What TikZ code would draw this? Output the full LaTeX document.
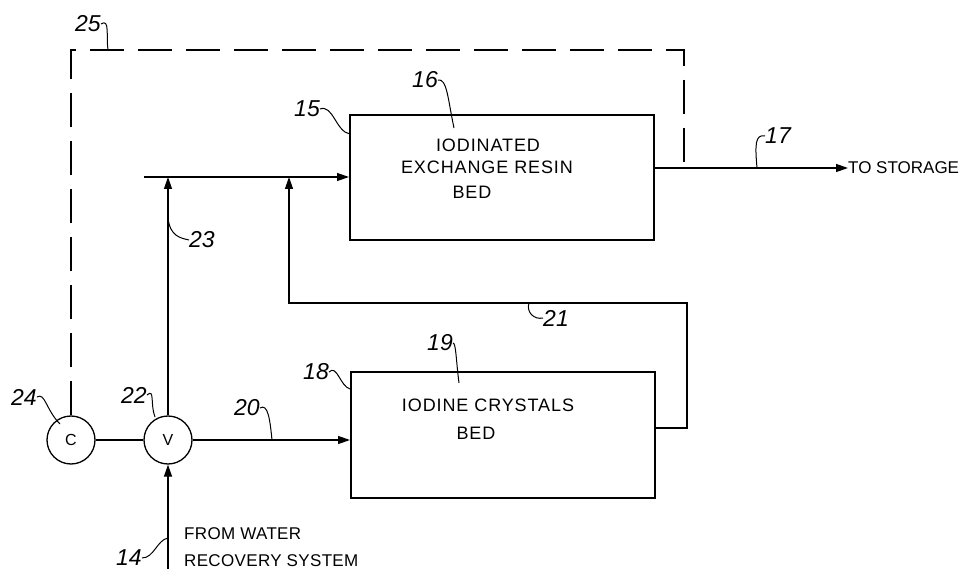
\documentclass[tikz,border=0pt]{standalone}
\usepackage{fontspec}
\setmainfont{Liberation Sans}
\usetikzlibrary{arrows.meta}
\begin{document}
\begin{tikzpicture}[x=1pt,y=-1pt,
  flow/.style={line width=1.3pt},
  arr/.style={flow,-{Triangle[length=12pt,width=8pt]}},
  bedbox/.style={draw,line width=2pt,minimum width=304pt,minimum height=125pt,inner sep=0},
  valve/.style={draw,circle,line width=1.3pt,minimum size=48pt,inner sep=0,font=\fontsize{16}{16}\selectfont},
  boxtext/.style={inner sep=0,font=\fontsize{18}{18}\selectfont\addfontfeature{LetterSpace=5}},
  plain/.style={inner sep=0,font=\fontsize{17}{17}\selectfont\addfontfeature{LetterSpace=2}},
  num/.style={inner sep=0,font=\fontsize{23}{23}\selectfont\itshape},
  leader/.style={line width=1pt},
  ctrl/.style={line width=1.3pt,dash pattern=on 34pt off 14pt}]
\useasboundingbox (0,0) rectangle (961,569);

% beds
\node[bedbox] (box1) at (502,177.5) {};
\node[bedbox,minimum height=126pt] (box2) at (503,435) {};
\node[boxtext] (t1a) at (488,145) {IODINATED};
\node[boxtext] (t1b) at (487,167) {EXCHANGE RESIN};
\node[boxtext] (t1c) at (472,192) {BED};
\node[boxtext] (t2a) at (488,405) {IODINE CRYSTALS};
\node[boxtext] (t2b) at (476,433) {BED};

% controller and valve
\node[valve] (C) at (71,440) {C};
\node[valve] (V) at (168,440) {V};

% coordinates
\coordinate (fs) at (144,177);
\coordinate (j17) at (684,168);
\coordinate (r21) at (687,428);
\coordinate (k21) at (289,303);
\coordinate (bot) at (168,569);
\coordinate (d1) at (73,50);

% text
\node[inner sep=0,font=\fontsize{17}{17}\selectfont,anchor=west] (storage) at (848,168) {TO STORAGE};
\node[plain,anchor=north west,align=left] (from) at (184,527)
  {FROM WATER\\[10pt]RECOVERY SYSTEM};

% flows
\draw[arr] (fs) -- (fs -| box1.west);
\draw[arr] (V.north) -- (V.north |- fs);
\draw[arr] (r21 -| box2.east) -- (r21) -- (r21 |- k21) -- (k21) -- (k21 |- fs);
\draw[arr] (box1.east |- j17) -- (storage.west);
\draw[arr] (V.east) -- (V.east -| box2.west);
\draw[flow] (C) -- (V);
\draw[arr] (bot) -- (V.south);

% control line
\draw[ctrl] (C.north) -- (C.north |- d1) -- (d1 -| j17) -- (j17);

% reference numerals
\node[num] (n25) at (88,24) {25};
\node[num] (n15) at (307,109) {15};
\node[num] (n16) at (425,80) {16};
\node[num] (n17) at (778,136) {17};
\node[num] (n23) at (202,240) {23};
\node[num] (n21) at (556,318) {21};
\node[num] (n19) at (440,343) {19};
\node[num] (n18) at (316,372) {18};
\node[num] (n20) at (247,408) {20};
\node[num] (n22) at (134,395) {22};
\node[num] (n24) at (24,397) {24};
\node[num] (n14) at (129,558) {14};

\coordinate (e25) at (108,50);
\coordinate (e15) at (350,134);
\coordinate (e16) at (454,128);
\coordinate (e17) at (757,168);
\coordinate (e23) at (168,218);
\coordinate (e21) at (529,303);
\coordinate (e19) at (459,383);
\coordinate (e18) at (350,389);
\coordinate (e20) at (272,440);
\coordinate (e22) at (155,417);
\coordinate (e24) at (60,424);
\coordinate (e14) at (168,538);

\draw[leader] (n25.east) .. controls (110,18) and (106,36) .. (e25);
\draw[leader] (n15.east) .. controls (333,104) and (336,132) .. (e15);
\draw[leader] (n16.east) .. controls (447,78) and (448,100) .. (e16);
\draw[leader] (n17.west) .. controls (755,134) and (755,145) .. (e17);
\draw[leader] (n23.west) .. controls (180,238) and (170,236) .. (e23);
\draw[leader] (n21.west) .. controls (534,320) and (526,312) .. (e21);
\draw[leader] (n19.east) .. controls (456,343) and (456,360) .. (e19);
\draw[leader] (n18.east) .. controls (337,364) and (340,386) .. (e18);
\draw[leader] (n20.east) .. controls (268,403) and (270,420) .. (e20);
\draw[leader] (n22.east) .. controls (155,388) and (150,404) .. (e22);
\draw[leader] (n24.east) .. controls (45,392) and (46,410) .. (e24);
\draw[leader] (n14.east) .. controls (154,558) and (157,540) .. (e14);
\end{tikzpicture}
\end{document}
